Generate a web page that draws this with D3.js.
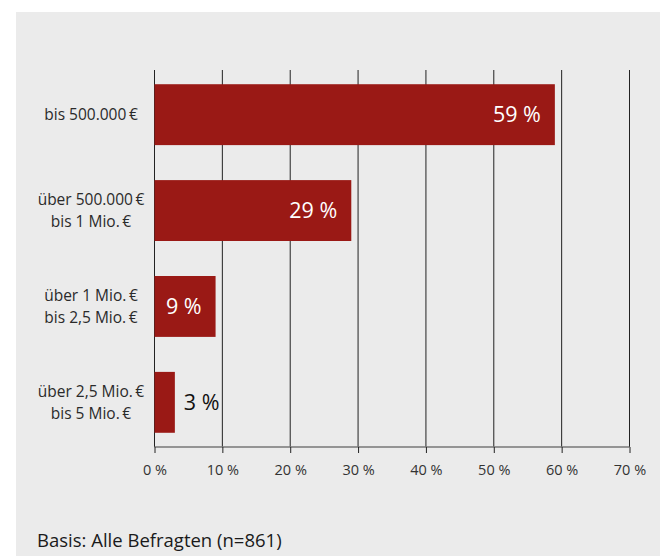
<!DOCTYPE html>
<html>
<head>
<meta charset="utf-8">
<script src="https://cdn.jsdelivr.net/npm/d3@7"></script>
<style>
  html, body { margin: 0; padding: 0; background: #fff; }
  svg { display: block; }
  text { font-family: "Open Sans", "Noto Sans", sans-serif; }
</style>
</head>
<body>
<svg id="chart" width="664" height="556"></svg>
<script>
// Investment volume brackets (two-line labels) and share of respondents
const categories = [
  ["bis 500.000\u2009€"],
  ["über 500.000\u2009€", "bis 1 Mio.\u2009€"],
  ["über 1 Mio.\u2009€", "bis 2,5 Mio.\u2009€"],
  ["über 2,5 Mio.\u2009€", "bis 5 Mio.\u2009€"]
];
const values = [59, 29, 9, 3];
const tickValues = [0, 10, 20, 30, 40, 50, 60, 70];
const footnote = "Basis: Alle Befragten (n=861)";

const svg = d3.select("#chart");
const W = 664, H = 556;

// panel background
svg.append("rect").attr("x", 16).attr("y", 12).attr("width", W - 20).attr("height", H - 12)
  .attr("fill", "#ebebeb");

const x = d3.scaleLinear().domain([0, 70]).range([154.5, 629.5]);
const y = d3.scaleBand().domain(d3.range(categories.length)).range([66, 451]).paddingInner(0.365).paddingOuter(0.19);

const gridTop = 70, axisY = 447;

// vertical gridlines
svg.append("g").selectAll("line").data(tickValues).join("line")
  .attr("x1", d => x(d)).attr("x2", d => x(d))
  .attr("y1", gridTop).attr("y2", axisY)
  .attr("stroke", "#222").attr("stroke-width", 1);

// bars
svg.append("g").selectAll("rect").data(values).join("rect")
  .attr("x", x(0)).attr("y", (d, i) => y(i))
  .attr("width", d => x(d) - x(0)).attr("height", y.bandwidth())
  .attr("fill", "#9a1915");

// value labels: inside (white) when the bar is wide enough, else outside
const fmt = d => d + " %";
svg.append("g").selectAll("text").data(values).join("text")
  .attr("x", d => d >= 5 ? x(d) - 14 : x(d) + 9)
  .attr("y", (d, i) => y(i) + y.bandwidth() / 2)
  .attr("dy", "0.36em")
  .attr("text-anchor", d => d >= 5 ? "end" : "start")
  .attr("fill", d => d >= 5 ? "#fff" : "#111")
  .attr("font-size", 21.5)
  .text(fmt);

// category labels
const catG = svg.append("g");
categories.forEach((lines, i) => {
  const cy = y(i) + y.bandwidth() / 2;
  const lh = 21.5;
  const t = catG.append("text").attr("text-anchor", "middle").attr("fill", "#2a2a2a").attr("font-size", 15.5);
  lines.forEach((ln, j) => {
    t.append("tspan").attr("x", 91)
      .attr("y", cy + (j - (lines.length - 1) / 2) * lh)
      .attr("dy", "0.36em").text(ln);
  });
});

// x axis
const axis = d3.axisBottom(x).tickValues(tickValues).tickSize(6).tickPadding(12).tickFormat(fmt);
const ax = svg.append("g").attr("transform", `translate(0,${axisY})`).call(axis);
ax.select(".domain").attr("stroke", "#777").attr("stroke-width", 1.3).attr("d", `M${x(0)},0H${x(70)}`);
ax.selectAll(".tick line").attr("stroke", "#222");
ax.selectAll(".tick text").attr("fill", "#333").attr("font-size", 14.5)
  .style("font-family", "'Open Sans', 'Noto Sans', sans-serif");

// footnote
svg.append("text").attr("x", 37).attr("y", 547).attr("fill", "#1a1a1a").attr("font-size", 18.5)
  .text(footnote);
</script>
</body>
</html>
